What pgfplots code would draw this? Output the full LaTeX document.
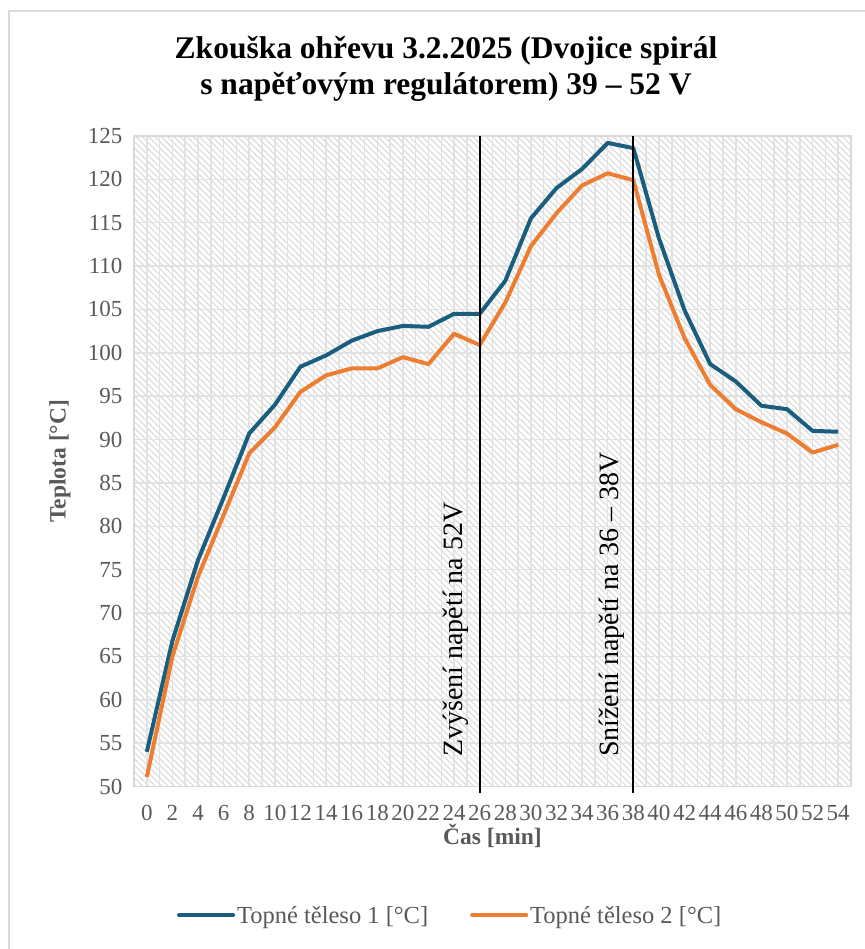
\documentclass[border=0pt]{standalone}
\usepackage{fontspec}
\setmainfont{Liberation Serif}
\usepackage{pgfplots}
\usepackage{pgfplotstable}
\pgfplotsset{compat=1.18}
\usetikzlibrary{patterns.meta}
\definecolor{blueS}{HTML}{1A5E7D}
\definecolor{orangeS}{HTML}{ED7D31}
\definecolor{tickgray}{HTML}{595959}
\definecolor{gridgray}{HTML}{E2E2E2}
\definecolor{hatchgray}{HTML}{DCDCDC}
\definecolor{framegray}{HTML}{D9D9D9}

\pgfplotstableread{
x  a      b
0  54.0   51.1
2  66.8   65.0
4  76.1   74.2
6  83.3   81.3
8  90.7   88.4
10 94.0   91.4
12 98.4   95.5
14 99.7   97.4
16 101.4  98.2
18 102.5  98.2
20 103.1  99.5
22 103.0  98.7
24 104.5  102.2
26 104.5  100.9
28 108.3  105.8
30 115.5  112.3
32 119.0  116.1
34 121.2  119.3
36 124.2  120.7
38 123.6  119.9
40 113.2  109.0
42 104.9  101.7
44 98.7   96.3
46 96.7   93.5
48 93.9   92.0
50 93.5   90.7
52 91.0   88.5
54 90.9   89.4
}\datatable

\begin{document}
\begin{tikzpicture}[x=1bp,y=1bp]
\useasboundingbox (0,0) rectangle (865,949);
\draw[framegray, line width=2bp] (9,0) -- (9,938) -- (866,938);
\node[align=center, font=\fontsize{31.5bp}{36bp}\selectfont\bfseries] at (446,880) {Zkouška ohřevu 3.2.2025 (Dvojice spirál\\s napěťovým regulátorem) 39 – 52 V};
\begin{axis}[
  at={(134bp,162.5bp)}, anchor=south west,
  scale only axis, width=717bp, height=650.5bp,
  xmin=-1, xmax=55, ymin=50, ymax=125,
  xtick={0,2,...,54},
  minor xtick={-1,1,...,55},
  ytick={50,55,...,125},
  major tick length=0pt, minor tick length=0pt,
  xmajorgrids, xminorgrids, ymajorgrids,
  major grid style={gridgray, line width=1.5bp},
  minor grid style={gridgray, line width=1.5bp},
  axis line style={framegray, line width=1.5bp},
  axis background/.style={pattern={Lines[angle=-45,distance=4.5bp,line width=1.2bp]}, pattern color=hatchgray},
  /pgf/number format/assume math mode=true,
  tick label style={font=\fontsize{23bp}{26bp}\selectfont, text=tickgray},
  xticklabel style={yshift=-19bp, inner sep=0pt},
  yticklabel style={xshift=-8bp},
  xlabel={Čas [min]},
  ylabel={Teplota [°C]},
  label style={font=\fontsize{23.5bp}{26bp}\selectfont\bfseries, text=tickgray},
  xlabel style={at={(axis description cs:0.5,0)}, anchor=center, yshift=-49bp},
  ylabel style={at={(axis description cs:0,0.5)}, anchor=center, yshift=74bp},
  clip=false,
  legend style={at={(axis description cs:0.441,-0.198)}, anchor=center, draw=none, fill=none,
     font=\fontsize{24.5bp}{27bp}\selectfont, text=tickgray, column sep=0bp,
     /tikz/every even column/.append style={column sep=40bp}},
  legend columns=2,
  legend image code/.code={\draw[#1, line cap=round] (0bp,0bp) -- (54bp,0bp);},
]
\addplot[blueS, line width=4bp, line join=round] table[x=x, y=a] {\datatable};
\addlegendentry{Topné těleso 1 [°C]}
\addplot[orangeS, line width=4bp, line join=round] table[x=x, y=b] {\datatable};
\addlegendentry{Topné těleso 2 [°C]}
\addplot[black, line width=2bp, forget plot] coordinates {(26,49.3) (26,125)};
\addplot[black, line width=2bp, forget plot] coordinates {(38,49.3) (38,125)};
\node[rotate=90, anchor=south west, inner sep=0pt, font=\fontsize{28bp}{30bp}\selectfont] at ([xshift=-11bp]axis cs:26,53.4) {Zvýšení napětí na 52V};
\node[rotate=90, anchor=south west, inner sep=0pt, font=\fontsize{28bp}{30bp}\selectfont] at ([xshift=-9bp]axis cs:38,53.4) {Snížení napětí na 36 – 38V};
\end{axis}
\end{tikzpicture}
\end{document}
